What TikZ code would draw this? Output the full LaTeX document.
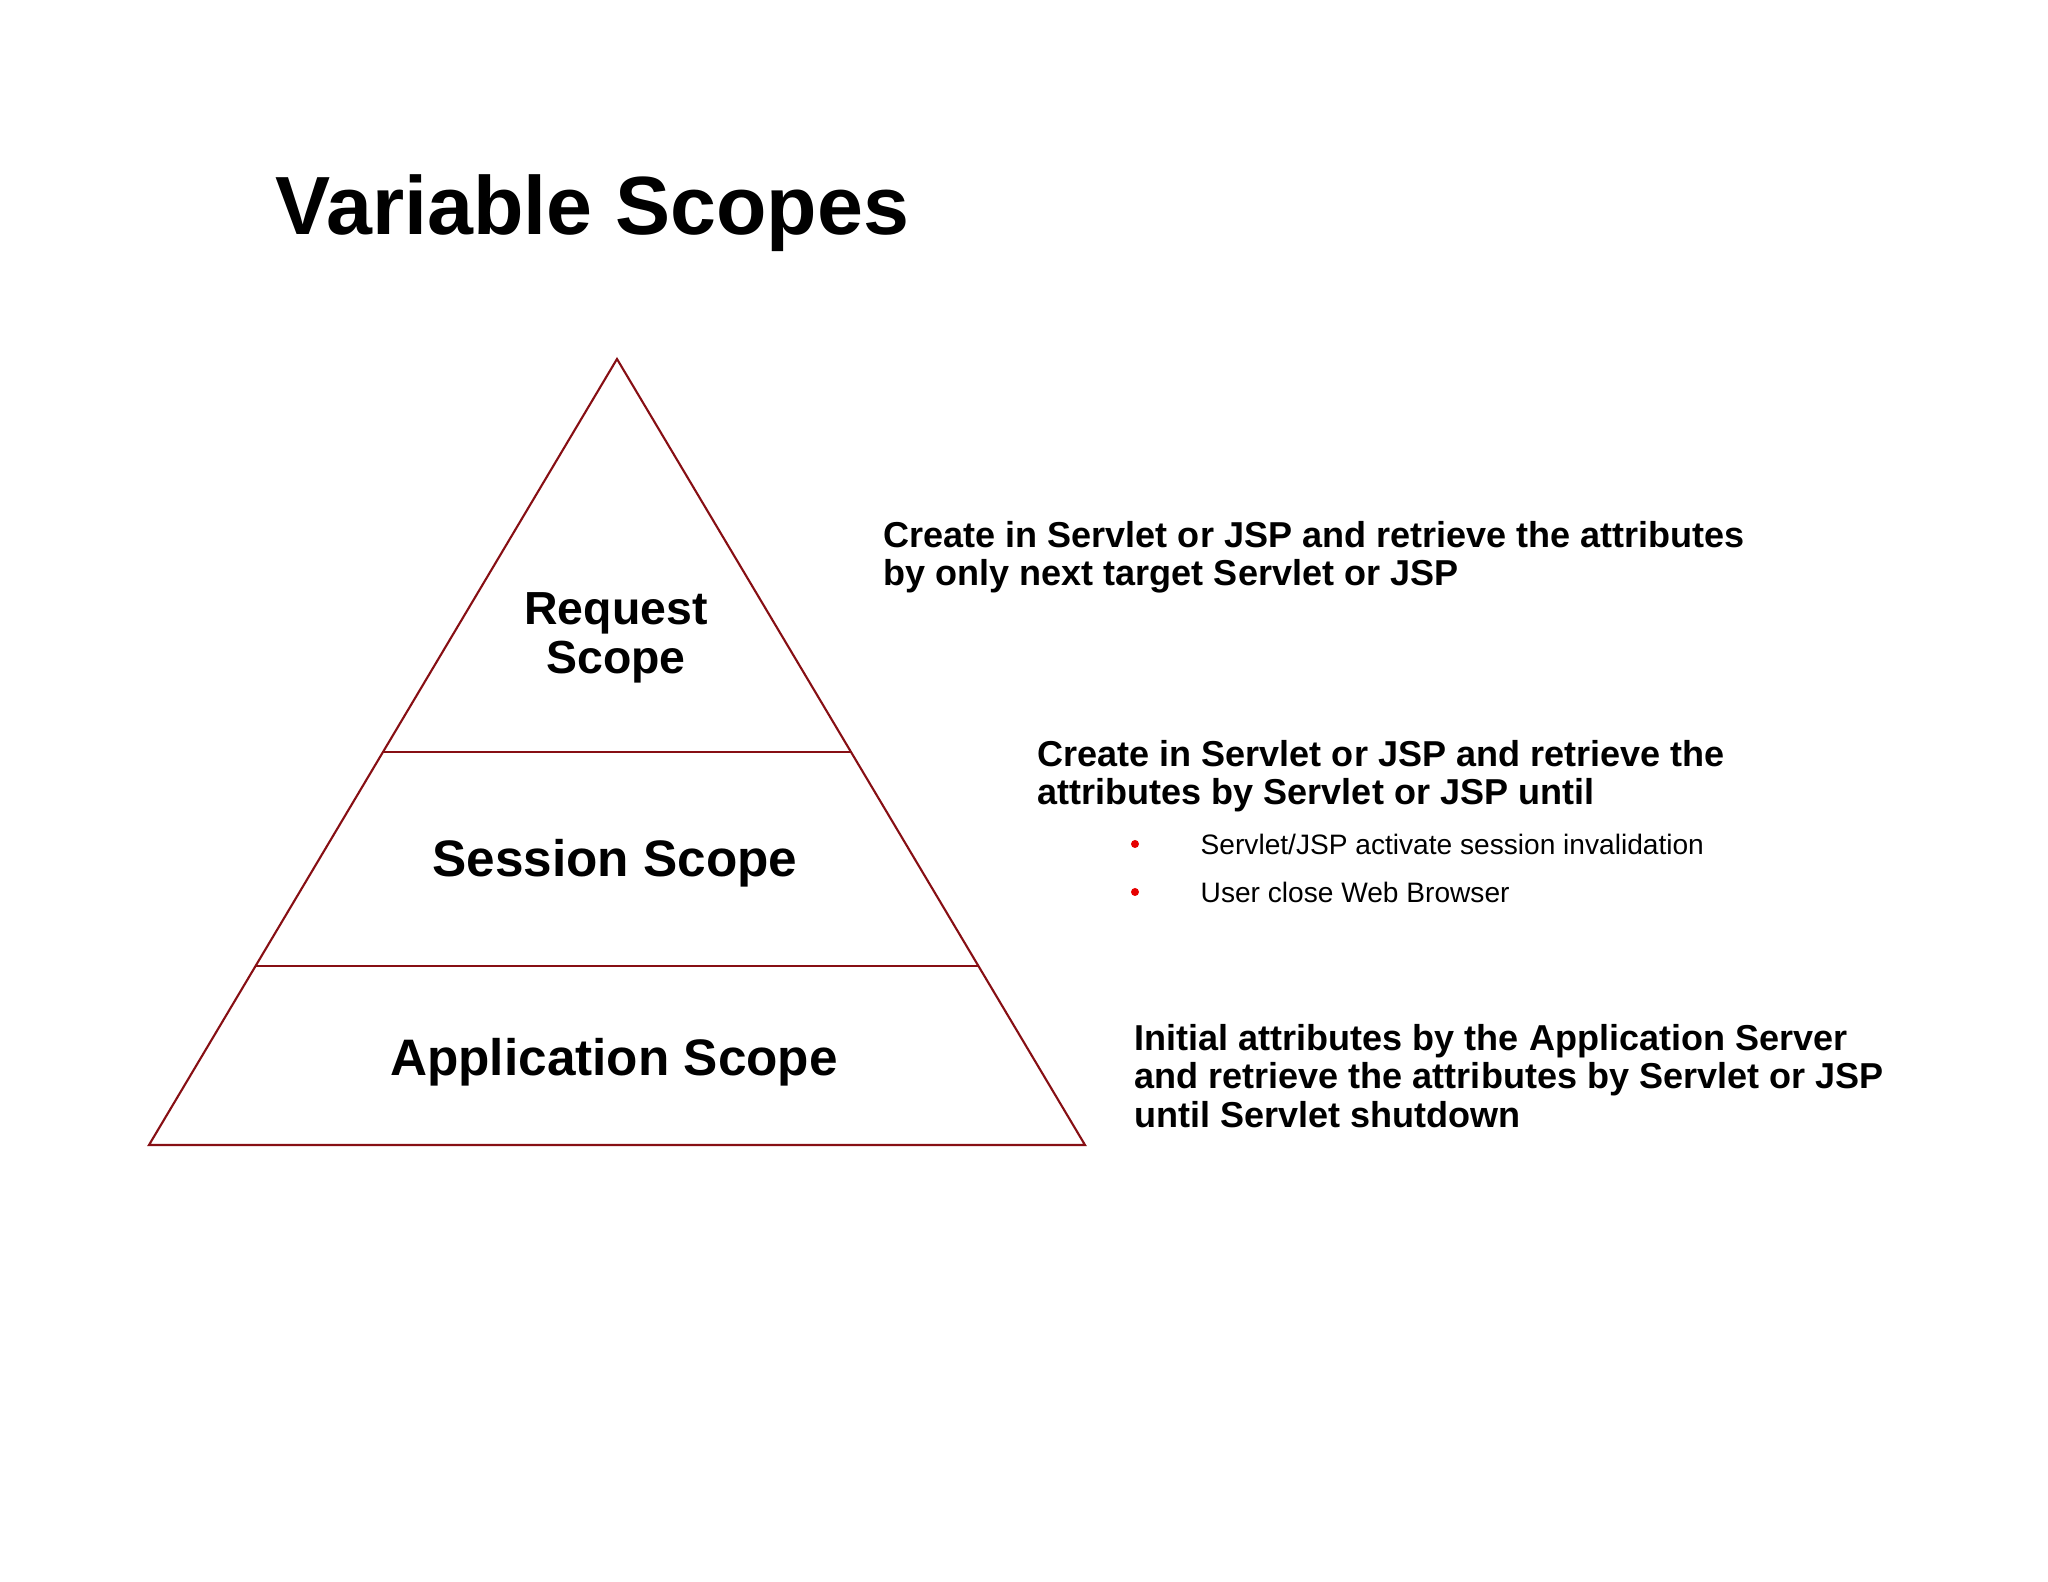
\documentclass[tikz,border=0pt]{standalone}
\usepackage{fontspec}
\setmainfont{Liberation Sans}
\usetikzlibrary{calc}
\definecolor{pyrred}{RGB}{135,15,20}
\definecolor{dotred}{RGB}{230,0,0}

\begin{document}
\begin{tikzpicture}[
		scopelabel/.style={font=\fontsize{14.6}{14.5}\selectfont\bfseries, align=center, inner sep=0pt},
		note/.style={font=\fontsize{10.25}{10.9}\selectfont\bfseries, align=left, anchor=west, inner sep=0pt},
		subnote/.style={font=\fontsize{8}{9.6}\selectfont, anchor=west, inner sep=0pt},
		reddot/.style={circle, fill=dotred, inner sep=0pt, minimum size=0.08cm},
		pyr/.style={line width=0.6pt, color=pyrred}
	]
		%%%%% START %%%%%
		\useasboundingbox (0, 0) rectangle (20.48, 15.82);
		
		\node[anchor=base west, inner sep=0pt, font=\fontsize{23.5}{28}\selectfont\bfseries] (title) at (2.75, 13.47) {Variable Scopes};
		
		% pyramid
		\coordinate (apex) at (6.17, 12.23);
		\coordinate (baseL) at (1.49, 4.37);
		\coordinate (baseR) at (10.85, 4.37);
		\coordinate (reqL) at ($(apex)!0.5!(baseL)$);
		\coordinate (reqR) at ($(apex)!0.5!(baseR)$);
		\coordinate (sesL) at ($(apex)!0.772!(baseL)$);
		\coordinate (sesR) at ($(apex)!0.772!(baseR)$);
		
		\draw[pyr] (apex) -- (baseR) -- (baseL) -- cycle;
		\draw[pyr] (reqL) -- (reqR);
		\draw[pyr] (sesL) -- (sesR);
		
		\node[scopelabel, font=\fontsize{13.2}{14.1}\selectfont\bfseries] (request) at (6.16, 9.44) {Request\\Scope};
		\node[scopelabel] (session) at (6.15, 7.19) {Session Scope};
		\node[scopelabel] (application) at (6.14, 5.20) {Application Scope};
		
		% notes
		\node[note] (reqNote) at (8.83, 10.25) {Create in Servlet or JSP and retrieve the attributes\\by only next target Servlet or JSP};
		
		\node[note] (sesNote) at (10.37, 8.06) {Create in Servlet or JSP and retrieve the\\attributes by Servlet or JSP until};
		\node[reddot] (dot1) at (11.35, 7.38) {};
		\node[subnote] (item1) at (12.00, 7.38) {Servlet/JSP activate session invalidation};
		\node[reddot] (dot2) at (11.35, 6.90) {};
		\node[subnote] (item2) at (12.00, 6.90) {User close Web Browser};
		
		\node[note] (appNote) at (11.34, 5.06) {Initial attributes by the Application Server\\and retrieve the attributes by Servlet or JSP\\until Servlet shutdown};
		
		%%%%% END %%%%%
	\end{tikzpicture}
\end{document}
